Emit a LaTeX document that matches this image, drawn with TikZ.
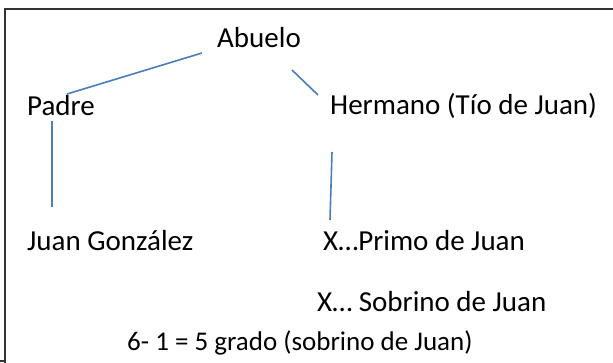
\documentclass[tikz,border=0pt]{standalone}
\usepackage{fontspec}
\setmainfont{Carlito}
\usetikzlibrary{calc}
\definecolor{linkblue}{HTML}{4A7EBB}
\tikzstyle{person}=[anchor=base west,inner sep=0pt,font=\fontsize{29}{34}\selectfont]
\tikzstyle{smallperson}=[person,font=\fontsize{27}{32}\selectfont]
\tikzstyle{undirectededge} = [draw,linkblue,line width=1.6pt]
\tikzstyle{frameline} = [draw,black!80,line width=2pt]

\begin{document}
\begin{tikzpicture}[x=1pt,y=-1pt]
    \useasboundingbox (0,0) rectangle (613,363);

    % the frame
    \path[frameline] (5,363) -- (5,9) -- (613,9);
    \path[frameline] (0,361) -- (5,361);

    % First we draw the persons
    \foreach \pos/\name/\label in {{(217,48)/Abuelo/Abuelo}, {(27,116)/Padre/Padre}, {(330,115)/Hermano/Hermano (Tío de Juan)}, {(27,251)/Juan/Juan González}, {(323,251)/Primo/X…Primo de Juan}, {(317,312)/Sobrino/X… Sobrino de Juan}}
        \node[person] (\name) at \pos {\label};
    \node[smallperson] (Grado) at (127,350) {6- 1 = 5 grado (sobrino de Juan)};

    % Connect persons with edges
    \path[undirectededge] ($(Abuelo.base west)+(-15,5)$) -- ($(Padre.base west)+(40,-22)$);
    \path[undirectededge] ($(Abuelo.base west)+(75,22)$) -- ($(Hermano.base west)+(-12,-20)$);
    \path[undirectededge] ($(Padre.base west)+(25,5)$) -- ($(Juan.base west)+(25,-44)$);
    \path[undirectededge] ($(Hermano.base west)+(2,37)$) -- ($(Primo.base west)+(7,-31)$);

\end{tikzpicture}
\end{document}
